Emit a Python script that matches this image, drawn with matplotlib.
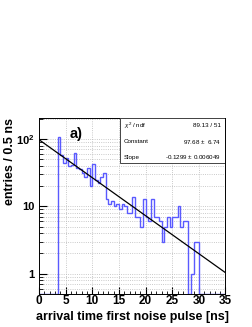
import numpy as np
import matplotlib
matplotlib.use("Agg")
import matplotlib.pyplot as plt
from matplotlib.patches import Rectangle
from matplotlib.ticker import MultipleLocator, LogLocator, NullFormatter

plt.rcParams['font.family'] = ['Liberation Sans', 'DejaVu Sans']
plt.rcParams['mathtext.fontset'] = 'custom'
plt.rcParams['mathtext.rm'] = 'Liberation Sans'
plt.rcParams['mathtext.it'] = 'Liberation Sans:italic'
plt.rcParams['mathtext.bf'] = 'Liberation Sans:bold'

# histogram: 0.5 ns bins from 0 to 35 ns
bin_edges = np.arange(0, 35.5, 0.5)
counts = [0, 0, 0, 0, 0, 0, 0,
          107, 58, 44, 52, 40, 41, 62, 37, 36, 31, 27, 37, 20, 42, 25, 22, 27, 31,
          13, 11, 12, 10, 11, 9, 11, 10, 8, 8, 14, 7, 7, 5, 13, 7,
          6, 13, 7, 7, 6, 3, 5, 7, 5, 7, 7, 10, 5, 6, 6, 0, 1, 3, 3,
          0, 0, 0, 0, 0, 0, 0, 0, 0, 0]

# fit result
fit_const = 97.68
fit_const_err = 6.74
fit_slope = -0.1299
fit_slope_err = 0.006049
chi2, ndf = 89.13, 51

ymin, ymax = 0.5, 205

fig = plt.figure(figsize=(2.53, 3.27), dpi=100)
ax = fig.add_axes([39 / 253, 1 - 294 / 327, (225.5 - 39) / 253, (294 - 118) / 327])

vals = np.array(counts, dtype=float)
vals = np.where(vals > 0, vals, ymin)
ax.stairs(vals, bin_edges, baseline=None, color='#5a5aff', lw=1.0)

xf = np.array([bin_edges[0], bin_edges[-1]])
ax.plot(xf, fit_const * np.exp(fit_slope * xf), color='black', lw=0.9)

ax.set_yscale('log')
ax.set_xlim(0, 35)
ax.set_ylim(ymin, ymax)

ax.xaxis.set_major_locator(MultipleLocator(5))
ax.xaxis.set_minor_locator(MultipleLocator(1))
ax.yaxis.set_minor_locator(LogLocator(base=10, subs=np.arange(2, 10), numticks=20))
ax.yaxis.set_minor_formatter(NullFormatter())
ax.set_yticks([1, 10, 100])
ax.set_yticklabels(['1', '10', r'$\mathbf{10^{2}}$'])

ax.tick_params(which='both', direction='in')
ax.tick_params(axis='x', which='major', length=5, pad=1, labelsize=8.5)
ax.tick_params(axis='x', which='minor', length=2.5)
ax.tick_params(axis='y', which='major', length=6, pad=3, labelsize=8)
ax.tick_params(axis='y', which='minor', length=3)
for lab in ax.get_xticklabels() + ax.get_yticklabels():
    lab.set_fontweight('bold')

ax.grid(True, which='major', axis='x', color='#b8b8b8', ls=':', lw=0.6)
ax.grid(True, which='both', axis='y', color='#b8b8b8', ls=':', lw=0.6)
ax.set_axisbelow(True)
for s in ax.spines.values():
    s.set_linewidth(0.7)

ax.set_xlabel('arrival time first noise pulse [ns]', fontsize=9, fontweight='bold')
ax.set_ylabel('entries / 0.5 ns', fontsize=9, fontweight='bold')
ax.xaxis.set_label_coords(0.5, -0.097)
ax.yaxis.set_label_coords(-0.125, 0.753)

ax.text(0.2, 0.91, 'a)', transform=ax.transAxes, fontsize=10.5, fontweight='bold',
        ha='center', va='center')

# stats box
bx0, by0 = 0.434, 0.744
ax.add_patch(Rectangle((bx0, by0), 1 - bx0, 1 - by0, transform=ax.transAxes,
                       facecolor='white', edgecolor='#444444', lw=0.7, zorder=5))
rows = [(r'$\chi^{2}$ / ndf', '%.2f / %d' % (chi2, ndf), 0.955),
        ('Constant', '%.2f $\\pm$  %.2f' % (fit_const, fit_const_err), 0.864),
        ('Slope', '%.4f $\\pm$ %.6f' % (fit_slope, fit_slope_err), 0.778)]
for left, right, yy in rows:
    ax.text(0.456, yy, left, transform=ax.transAxes, fontsize=4.5, ha='left', va='center', zorder=6)
    ax.text(0.976, yy, right, transform=ax.transAxes, fontsize=4.5, ha='right', va='center', zorder=6)

fig.savefig('out.png', dpi=100)
